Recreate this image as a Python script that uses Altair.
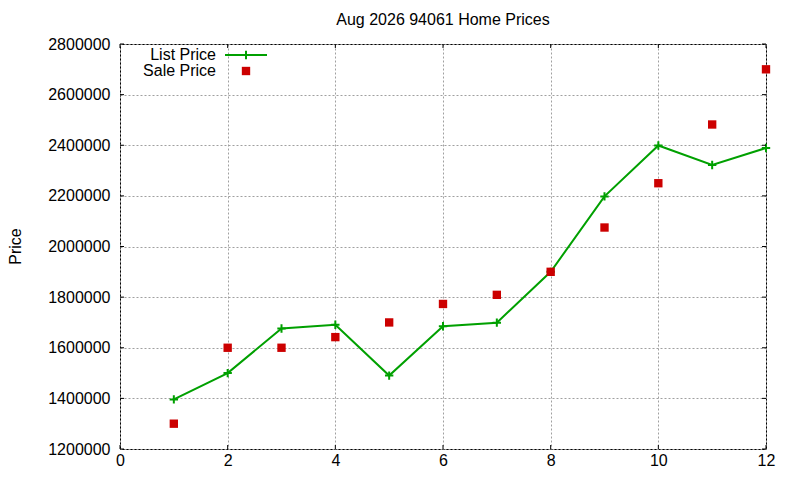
import altair as alt
import pandas as pd

# values
months = list(range(1, 13))
list_price = [1396000, 1500000, 1676000, 1691000, 1490000, 1685000,
              1699000, 1900000, 2198000, 2399000, 2322000, 2389000]
sale_price = [1300000, 1600000, 1600000, 1642000, 1700000, 1773000,
              1809000, 1900000, 2075000, 2250000, 2482000, 2700000]
x_ticks = [0, 2, 4, 6, 8, 10, 12]
y_ticks = [1200000, 1400000, 1600000, 1800000, 2000000, 2200000,
           2400000, 2600000, 2800000]

df = pd.DataFrame({"month": months, "list": list_price, "sale": sale_price})

W, H = 646, 405
FONT = "Liberation Sans"
GREEN = "#00a000"
RED = "#cc0000"
PLUS = "M-1,0L1,0M0,-1L0,1"
TICK = 4

x_scale = alt.Scale(domain=[0, 12], nice=False, zero=False)
y_scale = alt.Scale(domain=[1200000, 2800000], nice=False, zero=False)

# same axis on every layer so they merge into one
x_axis = alt.Axis(values=x_ticks, title=None, grid=True, ticks=False, domain=False,
                  labelPadding=3, format="d", labelFlush=False, labelOverlap=False)
y_axis = alt.Axis(values=y_ticks, title="Price", grid=True, ticks=False, domain=False,
                  labelPadding=10, format="d", labelFlush=False, labelOverlap=False,
                  titleAngle=270, titleX=-105, titleY=202,
                  titleAlign="center", titleBaseline="middle", titleFontWeight="normal",
                  titleFontSize=16, titleFont=FONT, titleColor="black")


def X(field):
    return alt.X(field, scale=x_scale, axis=x_axis)


def Y(field):
    return alt.Y(field, scale=y_scale, axis=y_axis)


# Linha do preço de lista
list_line = alt.Chart(df).mark_line(color=GREEN, strokeWidth=2).encode(
    x=X("month:Q"), y=Y("list:Q"))
list_pts = alt.Chart(df).mark_point(shape=PLUS, size=70, color=GREEN, strokeWidth=2,
                                    filled=False, opacity=1).encode(
    x=X("month:Q"), y=Y("list:Q"))
# Pontos do preço de venda
sale_pts = alt.Chart(df).mark_square(size=70, color=RED, opacity=1).encode(
    x=X("month:Q"), y=Y("sale:Q"))

# inward ticks, gnuplot style
ytick_df = pd.DataFrame({"v": y_ticks})
xtick_df = pd.DataFrame({"v": x_ticks})
ytick_l = alt.Chart(ytick_df).mark_rule(color="black").encode(
    y=Y("v:Q"), x=alt.value(0), x2=alt.value(TICK))
ytick_r = alt.Chart(ytick_df).mark_rule(color="black").encode(
    y=Y("v:Q"), x=alt.value(W - TICK), x2=alt.value(W))
xtick_b = alt.Chart(xtick_df).mark_rule(color="black").encode(
    x=X("v:Q"), y=alt.value(H - TICK), y2=alt.value(H))
xtick_t = alt.Chart(xtick_df).mark_rule(color="black").encode(
    x=X("v:Q"), y=alt.value(0), y2=alt.value(TICK))

# legend (label left, sample right)
one = alt.Data(values=[{}])


def legend_text(label, y):
    return alt.Chart(one).mark_text(align="right", baseline="middle", fontSize=16,
                                    font=FONT, color="black").encode(
        x=alt.value(96), y=alt.value(y), text=alt.value(label))


leg_line = alt.Chart(one).mark_rule(color=GREEN, strokeWidth=2).encode(
    x=alt.value(105), x2=alt.value(147), y=alt.value(11))
leg_plus = alt.Chart(one).mark_point(shape=PLUS, size=70, color=GREEN, strokeWidth=2,
                                     filled=False, opacity=1).encode(
    x=alt.value(126), y=alt.value(11))
leg_sq = alt.Chart(one).mark_square(size=70, color=RED, opacity=1).encode(
    x=alt.value(126), y=alt.value(27))

chart = alt.layer(
    list_line, list_pts, sale_pts, ytick_l, ytick_r, xtick_b, xtick_t,
    legend_text("List Price", 11), legend_text("Sale Price", 27),
    leg_line, leg_plus, leg_sq,
).properties(
    width=W, height=H,
    autosize=alt.AutoSizeParams(type="none"),
    padding={"left": 112, "top": 36, "right": 26, "bottom": 23},
    title=alt.TitleParams("Aug 2026 94061 Home Prices", fontSize=16, fontWeight="normal",
                          font=FONT, anchor="middle", offset=8, color="black"),
).configure_view(
    stroke="black", strokeWidth=1
).configure_axis(
    labelFont=FONT, labelFontSize=16, labelColor="black",
    gridColor="#a0a0a0", gridDash=[2, 2], gridWidth=1, gridOpacity=1,
)

chart.save("out.html", embed_options={"renderer": "svg", "actions": False})
